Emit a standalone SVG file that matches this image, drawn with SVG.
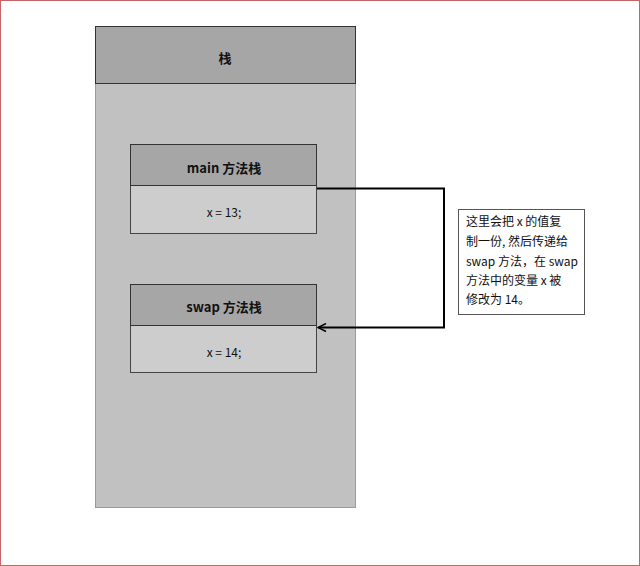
<svg xmlns="http://www.w3.org/2000/svg" width="640" height="566" viewBox="0 0 640 566">
<defs>
<style>
.t{font-family:"Noto Sans CJK SC","Liberation Sans",sans-serif;font-size:12px;fill:#111;text-anchor:middle}
.b{font-weight:bold;font-size:13px}
.hdr{fill:#a6a6a6;stroke:#333;stroke-width:1}
.body{fill:#cdcdcd;stroke:#444;stroke-width:1}
.note{font-family:"Noto Sans CJK SC","Liberation Sans",sans-serif;font-size:12px;fill:#111}
</style>
<marker id="arr" markerWidth="10" markerHeight="10" refX="9" refY="5" orient="auto" markerUnits="userSpaceOnUse">
<path d="M1,1 L9,5 L1,9" fill="none" stroke="#000" stroke-width="1.5"/>
</marker>
</defs>
<rect x="0.5" y="0.5" width="639" height="565" fill="#fff" stroke="#c86464" stroke-width="1"/>
<g id="stack">
<rect x="95.5" y="83.5" width="260" height="424" fill="#c1c1c1" stroke="#9a9a9a"/>
<rect x="95.5" y="26.5" width="260" height="57" class="hdr"/>
<text x="225" y="63" class="t b">栈</text>
</g>
<g id="main">
<rect x="130.5" y="185.5" width="186" height="48" class="body"/>
<rect x="130.5" y="144.5" width="186" height="41" class="hdr"/>
<text x="224" y="173" class="t b">main 方法栈</text>
<text x="224" y="217" class="t">x = 13;</text>
</g>
<g id="swap">
<rect x="130.5" y="325.5" width="186" height="47" class="body"/>
<rect x="130.5" y="284.5" width="186" height="41" class="hdr"/>
<text x="224" y="312" class="t b">swap 方法栈</text>
<text x="224" y="357" class="t">x = 14;</text>
</g>
<g id="note">
<rect x="458.5" y="209.5" width="126" height="105" fill="#fff" stroke="#555"/>
<text class="note"><tspan x="466" y="226">这里会把 x 的值复</tspan><tspan x="466" y="246">制一份, 然后传递给</tspan><tspan x="466" y="266">swap 方法，在 swap</tspan><tspan x="466" y="285">方法中的变量 x 被</tspan><tspan x="466" y="304">修改为 14。</tspan></text>
</g>
<g id="connectors">
<path d="M317,188.5 H444 V327.5 H318" fill="none" stroke="#000" stroke-width="2" marker-end="url(#arr)"/>
</g>
</svg>
